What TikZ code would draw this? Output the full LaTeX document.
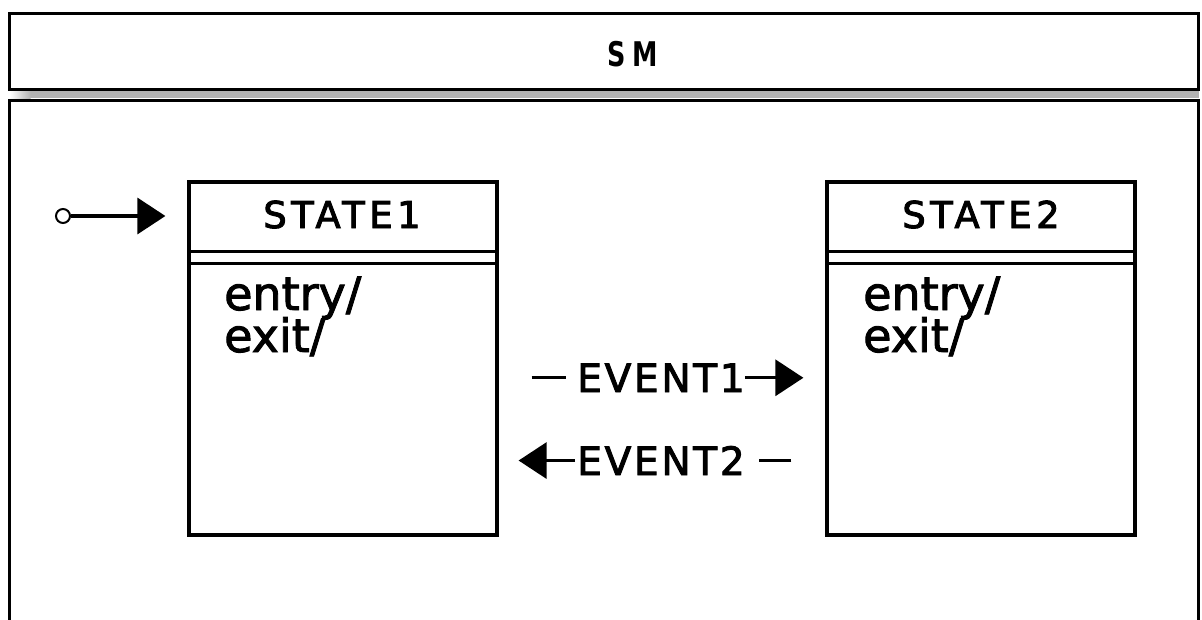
\documentclass[tikz,border=0pt]{standalone}
\usepackage{fontspec}
\usepackage{graphicx}
\setmainfont{DejaVu Sans}[FakeBold=2]
\newfontfamily\statefont[LetterSpace=12,FakeBold=2.5]{DejaVu Sans}
\newfontfamily\eventfont[LetterSpace=7,FakeBold=2.5]{DejaVu Sans}
\newfontfamily\smfont{DejaVu Sans Bold}
\usetikzlibrary{arrows.meta}
\begin{document}
\begin{tikzpicture}[x=1pt,y=-1pt,
  box/.style={draw, line width=3.2pt, inner sep=0pt},
  conn/.style={line width=3.2pt},
  tip/.style={-{Triangle[length=28pt,width=36pt]}},
  statename/.style={font=\statefont\fontsize{37}{40}\selectfont, inner sep=0pt, anchor=base},
  act/.style={font=\fontsize{46}{42}\selectfont, inner sep=0pt, anchor=base west},
  evt/.style={font=\eventfont\fontsize{39}{42}\selectfont, inner sep=0pt, anchor=base},
]
\useasboundingbox (0,0) rectangle (1202,619);
\fill[white] (0,0) rectangle (1202,619);
% shadow under the header
\fill[black!30] (30,90.5) rectangle (1199,98);
\shade[left color=white, right color=black!30] (10,90.5) rectangle (30.5,98);
% header box
\node[draw, line width=3pt, minimum width=1188.5pt, minimum height=75.5pt, inner sep=0pt, fill=white] (smhead) at (603.75,51.25) {};
\node[font=\smfont\fontsize{34}{34}\selectfont, anchor=base, inner sep=0pt] (smname) at (633,66) {\scalebox{0.75}[1]{S\kern9pt M}};
% body frame (cut off at the bottom)
\draw[line width=3pt] (9.5,640) -- (9.5,100.5) -- (1198,100.5) -- (1198,640);
% states
\node[box, minimum width=308pt, minimum height=353pt] (s1) at (343,358.5) {};
\node[box, minimum width=308pt, minimum height=353pt] (s2) at (981,358.5) {};
\draw[line width=3pt] (s1.west |- 0,251) -- (s1.east |- 0,251);
\draw[line width=3pt] (s1.west |- 0,263) -- (s1.east |- 0,263);
\draw[line width=3pt] (s2.west |- 0,251) -- (s2.east |- 0,251);
\draw[line width=3pt] (s2.west |- 0,263) -- (s2.east |- 0,263);
\node[statename] (s1name) at (342,228) {STATE1};
\node[statename] (s2name) at (981,228) {STATE2};
\node[act] (s1entry) at (224,310) {entry/};
\node[act] (s1exit) at (224,352) {exit/};
\node[act] (s2entry) at (863,310) {entry/};
\node[act] (s2exit) at (863,352) {exit/};
% initial state
\node[circle, draw, line width=2pt, minimum size=14pt, inner sep=0pt] (init) at (63,216) {};
\draw[conn, tip] (init) -- ([xshift=-22pt]s1.west |- init);
% transitions
\node[evt] (e1) at (661,392) {EVENT1};
\node[evt] (e2) at (661,475) {EVENT2};
\draw[conn] ([xshift=33pt]s1.east |- e1.west) -- ([xshift=-11pt]e1.west);
\draw[conn, tip] ([xshift=0pt]e1.east) -- ([xshift=-22pt]s2.west |- e1.east);
\draw[conn] ([xshift=-34pt]s2.west |- e2.east) -- ([xshift=14pt]e2.east);
\draw[conn, tip] ([xshift=-2pt]e2.west) -- ([xshift=20pt]s1.east |- e2.west);
\end{tikzpicture}
\end{document}
